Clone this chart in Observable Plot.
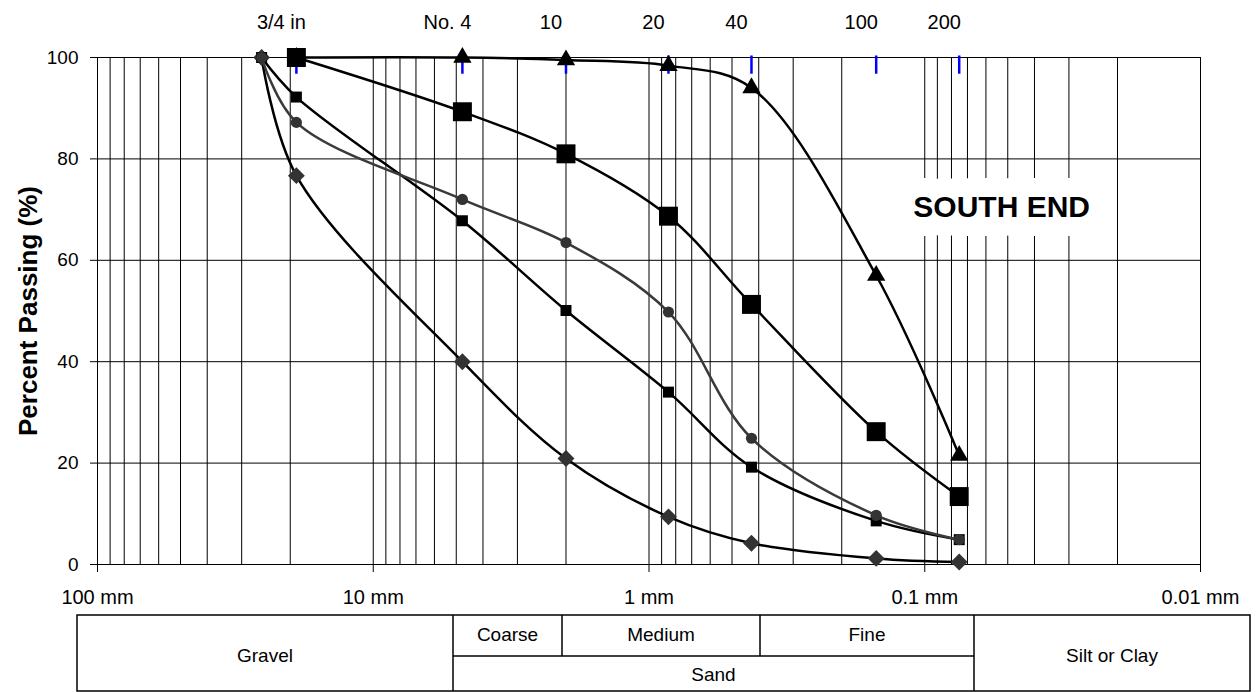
<!DOCTYPE html>
<html>
<head>
<meta charset="utf-8">
<script src="https://cdn.jsdelivr.net/npm/d3@7"></script>
<script src="https://cdn.jsdelivr.net/npm/@observablehq/plot@0.6"></script>
<style>
  html, body { margin: 0; padding: 0; background: #fff; }
  #wrap { position: relative; width: 1258px; height: 692px; overflow: hidden; font-family: "Liberation Sans", Arial, sans-serif; }
  #chart { position: absolute; left: 0; top: 0; }
  #table { position: absolute; left: 0; top: 0; pointer-events: none; }
</style>
</head>
<body>
<div id="wrap">
  <div id="chart"></div>
  <svg id="table" width="1258" height="692" xmlns="http://www.w3.org/2000/svg"
       font-family="Liberation Sans, Arial, sans-serif" font-size="19" fill="#000">
    <g stroke="#000" stroke-width="1.5" fill="none">
      <rect x="77" y="615" width="1173" height="76"/>
      <line x1="453" y1="615" x2="453" y2="691"/>
      <line x1="974" y1="615" x2="974" y2="691"/>
      <line x1="562" y1="615" x2="562" y2="656"/>
      <line x1="760" y1="615" x2="760" y2="656"/>
      <line x1="453" y1="656" x2="974" y2="656"/>
    </g>
    <g text-anchor="middle" dominant-baseline="central">
      <text x="265" y="655">Gravel</text>
      <text x="507.5" y="634">Coarse</text>
      <text x="661" y="634">Medium</text>
      <text x="867" y="634">Fine</text>
      <text x="713.5" y="674">Sand</text>
      <text x="1112" y="655">Silt or Clay</text>
    </g>
  </svg>
</div>
<script>
// ---- data ----
const sizes        = [25.4, 19, 4.75, 2.0, 0.85, 0.425, 0.15, 0.075]; // mm
const triangles    = [null, 100, 100, 99.5, 98.4, 94.0, 57.0, 21.5];
const bigSquares   = [null, 100, 89.3, 81.0, 68.7, 51.3, 26.2, 13.4];
const smallSquares = [100, 92.2, 67.8, 50.1, 34.0, 19.2, 8.6, 4.9];
const circles      = [100, 87.2, 72.0, 63.5, 49.8, 24.9, 9.7, 4.9];
const diamonds     = [100, 76.7, 40.0, 20.9, 9.4, 4.2, 1.2, 0.5];

const sieveSizes  = [19, 4.75, 2.0, 0.85, 0.425, 0.15, 0.075];
const sieveLabels = ["3/4 in", "No. 4", "10", "20", "40", "100", "200"];

const xTicks      = [100, 10, 1, 0.1, 0.01];
const xTickLabels = ["100 mm", "10 mm", "1 mm", "0.1 mm", "0.01 mm"];
const yTicks      = [0, 20, 40, 60, 80, 100];

const yLabel   = "Percent Passing (%)";
const plotNote = "SOUTH END";

// ---- derived ----
const gridX = [];
for (let e = -2; e <= 1; e++) for (let m = 1; m <= 9; m++) gridX.push(+(m * Math.pow(10, e)).toPrecision(6));
gridX.push(100);

const xLabelMap = new Map(xTicks.map((v, i) => [v, xTickLabels[i]]));
const sieveRows = sieveSizes.map((s, i) => ({size: s, label: sieveLabels[i]}));

const series = [
  {values: diamonds,     symbol: "diamond2", r: 7.6,  fill: "#333", line: "#000"},
  {values: smallSquares, symbol: "square",   r: 6.2,  fill: "#000", line: "#000"},
  {values: circles,      symbol: "circle",   r: 5.6,  fill: "#333", line: "#3a3a3a"},
  {values: bigSquares,   symbol: "square",   r: 10.7, fill: "#000", line: "#000"},
  {values: triangles,    symbol: "triangle", r: 6.8,  fill: "#000", line: "#000"}
];

const seriesMarks = series.flatMap(s => {
  const rows = sizes.map((size, i) => ({size, pct: s.values[i]})).filter(d => d.pct != null);
  return [
    Plot.line(rows, {x: "size", y: "pct", curve: "catmull-rom", stroke: s.line, strokeWidth: 2.5}),
    Plot.dot(rows, {x: "size", y: "pct", symbol: s.symbol, r: s.r, fill: s.fill, stroke: "none"})
  ];
});

const chart = Plot.plot({
  width: 1258,
  height: 615,
  marginLeft: 97,
  marginRight: 58,
  marginTop: 57,
  marginBottom: 51,
  style: {fontFamily: "Liberation Sans, Arial, sans-serif", fontSize: "19px", color: "#000", background: "#fff", overflow: "visible"},
  x: {type: "log", domain: [100, 0.01]},
  y: {domain: [0, 100]},
  marks: [
    Plot.ruleX(gridX, {stroke: "#000", strokeWidth: 1}),
    Plot.ruleY(yTicks, {stroke: "#000", strokeWidth: 1}),
    Plot.axisY({ticks: yTicks, tickSize: 7, tickPadding: 12, fontSize: 19, label: null}),
    Plot.axisX({ticks: xTicks, tickFormat: d => xLabelMap.get(d), tickSize: 8, tickPadding: 17, fontSize: 20, label: null}),
    Plot.text([yLabel], {frameAnchor: "left", textAnchor: "middle", lineAnchor: "middle", dx: -69, rotate: -90, fontSize: 26, fontWeight: "bold"}),
    Plot.text(sieveRows, {x: "size", text: "label", frameAnchor: "top", lineAnchor: "middle", dy: -35, dx: -15, fontSize: 20}),
    Plot.text([plotNote], {x: 0.0526, y: 70.4, fontSize: 30, fontWeight: "bold", fill: "#000", stroke: "#fff", strokeWidth: 38, strokeLinejoin: "round"}),
    Plot.ruleX(sieveSizes, {x: d => d, y1: 100.3, y2: 96.7, stroke: "#0000ff", strokeWidth: 2.5}),
    ...seriesMarks
  ]
});
document.getElementById("chart").appendChild(chart);
</script>
</body>
</html>
